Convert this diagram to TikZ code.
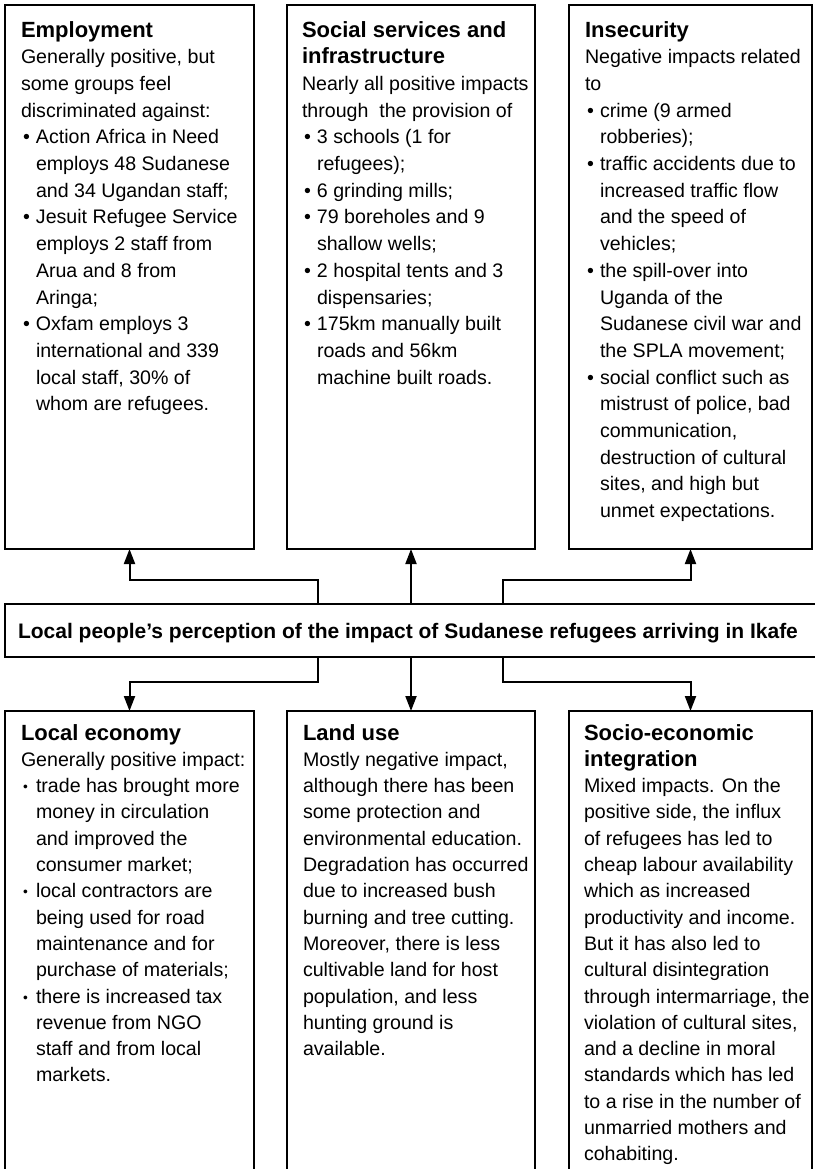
\documentclass[tikz,border=0pt]{standalone}
\usepackage{fontspec}
\setmainfont{Liberation Sans}
\usetikzlibrary{arrows.meta}
\newcommand{\bul}{\makebox[15bp][l]{\hspace{2bp}\textbullet}}
\newcommand{\sbul}{\makebox[15bp][l]{\hspace{2bp}\raisebox{1bp}{\scalebox{0.7}{\textbullet}}}}
\newcommand{\ind}{\hspace*{15bp}}
\newcommand{\hd}[1]{{\fontsize{22bp}{26.7bp}\selectfont\bfseries #1}}
\newcommand{\hdb}[1]{{\fontsize{22bp}{26.3bp}\selectfont\bfseries #1}}
\newenvironment{toptext}[1]{\begin{minipage}[t]{#1}\fontsize{19.6bp}{26.7bp}\selectfont\raggedright\parindent0pt}{\end{minipage}}
\newenvironment{bottext}[1]{\begin{minipage}[t]{#1}\fontsize{19.6bp}{26.3bp}\selectfont\raggedright\parindent0pt}{\end{minipage}}
\tikzset{
  panel/.style={draw=black, line width=2.2bp, inner sep=0pt, outer sep=0pt, anchor=north west},
  txt/.style={inner sep=0pt, outer sep=0pt, anchor=base west, align=left},
  conn/.style={draw=black, line width=2bp, -{Triangle[length=15bp,width=11bp]}}
}
\begin{document}
\begin{tikzpicture}[x=1bp,y=-1bp]
\useasboundingbox[fill=white] (0,0) rectangle (815,1169);
% top boxes
\node[panel, minimum width=249bp, minimum height=544bp] (emp) at (5,5) {};
\node[panel, minimum width=248bp, minimum height=544bp] (soc) at (287,5) {};
\node[panel, minimum width=243bp, minimum height=544bp] (ins) at (569,5) {};
% central box
\node[panel, minimum width=820bp, minimum height=53bp] (cen) at (5,604) {};
% bottom boxes (open at the bottom)
\node[panel, minimum width=249bp, minimum height=480bp] (eco) at (5,711) {};
\node[panel, minimum width=248bp, minimum height=480bp] (land) at (287,711) {};
\node[panel, minimum width=243bp, minimum height=480bp] (int) at (569,711) {};
% tap points
\coordinate (tl) at (318,0);
\coordinate (tr) at (503,0);
% connectors up
\draw[conn] (cen.north -| tl) -- ++(0,-24) -| (emp.south);
\draw[conn] (cen.north -| soc.south) -- (soc.south);
\draw[conn] (cen.north -| tr) -- ++(0,-24) -| (ins.south);
% connectors down
\draw[conn] (cen.south -| tl) -- ++(0,25) -| (eco.north);
\draw[conn] (cen.south -| land.north) -- (land.north);
\draw[conn] (cen.south -| tr) -- ++(0,25) -| (int.north);
% central title
\node[txt] (title) at (18,638) {\fontsize{21bp}{24bp}\selectfont\bfseries Local people’s perception of the impact of Sudanese refugees arriving in Ikafe};
% top texts
\node[txt] (t1) at (21,37) {\begin{toptext}{240bp}
\hd{Employment}\\
Generally positive, but\\
some groups feel\\
discriminated against:\\
\bul Action Africa in Need\\
\ind employs 48 Sudanese\\
\ind and 34 Ugandan staff;\\
\bul Jesuit Refugee Service\\
\ind employs 2 staff from\\
\ind Arua and 8 from\\
\ind Aringa;\\
\bul Oxfam employs 3\\
\ind international and 339\\
\ind local staff, 30\% of\\
\ind whom are refugees.
\end{toptext}};
\node[txt] (t2) at (302,37) {\begin{toptext}{240bp}
\hd{Social services and}\\
\hd{infrastructure}\\
Nearly all positive impacts\\
through\ \ the provision of\\
\bul 3 schools (1 for\\
\ind refugees);\\
\bul 6 grinding mills;\\
\bul 79 boreholes and 9\\
\ind shallow wells;\\
\bul 2 hospital tents and 3\\
\ind dispensaries;\\
\bul 175km manually built\\
\ind roads and 56km\\
\ind machine built roads.
\end{toptext}};
\node[txt] (t3) at (585,37) {\begin{toptext}{240bp}
\hd{Insecurity}\\
Negative impacts related\\
to\\
\bul crime (9 armed\\
\ind robberies);\\
\bul traffic accidents due to\\
\ind increased traffic flow\\
\ind and the speed of\\
\ind vehicles;\\
\bul the spill-over into\\
\ind Uganda of the\\
\ind Sudanese civil war and\\
\ind the SPLA movement;\\
\bul social conflict such as\\
\ind mistrust of police, bad\\
\ind communication,\\
\ind destruction of cultural\\
\ind sites, and high but\\
\ind unmet expectations.
\end{toptext}};
% bottom texts
\node[txt] (b1) at (21,740) {\begin{bottext}{240bp}
\hdb{Local economy}\\
Generally positive impact:\\
\sbul trade has brought more\\
\ind money in circulation\\
\ind and improved the\\
\ind consumer market;\\
\sbul local contractors are\\
\ind being used for road\\
\ind maintenance and for\\
\ind purchase of materials;\\
\sbul there is increased tax\\
\ind revenue from NGO\\
\ind staff and from local\\
\ind markets.
\end{bottext}};
\node[txt] (b2) at (303,740) {\begin{bottext}{240bp}
\hdb{Land use}\\
Mostly negative impact,\\
although there has been\\
some protection and\\
environmental education.\\
Degradation has occurred\\
due to increased bush\\
burning and tree cutting.\\
Moreover, there is less\\
cultivable land for host\\
population, and less\\
hunting ground is\\
available.
\end{bottext}};
\node[txt] (b3) at (584,740) {\begin{bottext}{240bp}
\hdb{Socio-economic}\\
\hdb{integration}\\
Mixed impacts. On the\\
positive side, the influx\\
of refugees has led to\\
cheap labour availability\\
which as increased\\
productivity and income.\\
But it has also led to\\
cultural disintegration\\
through intermarriage, the\\
violation of cultural sites,\\
and a decline in moral\\
standards which has led\\
to a rise in the number of\\
unmarried mothers and\\
cohabiting.
\end{bottext}};
\end{tikzpicture}
\end{document}
